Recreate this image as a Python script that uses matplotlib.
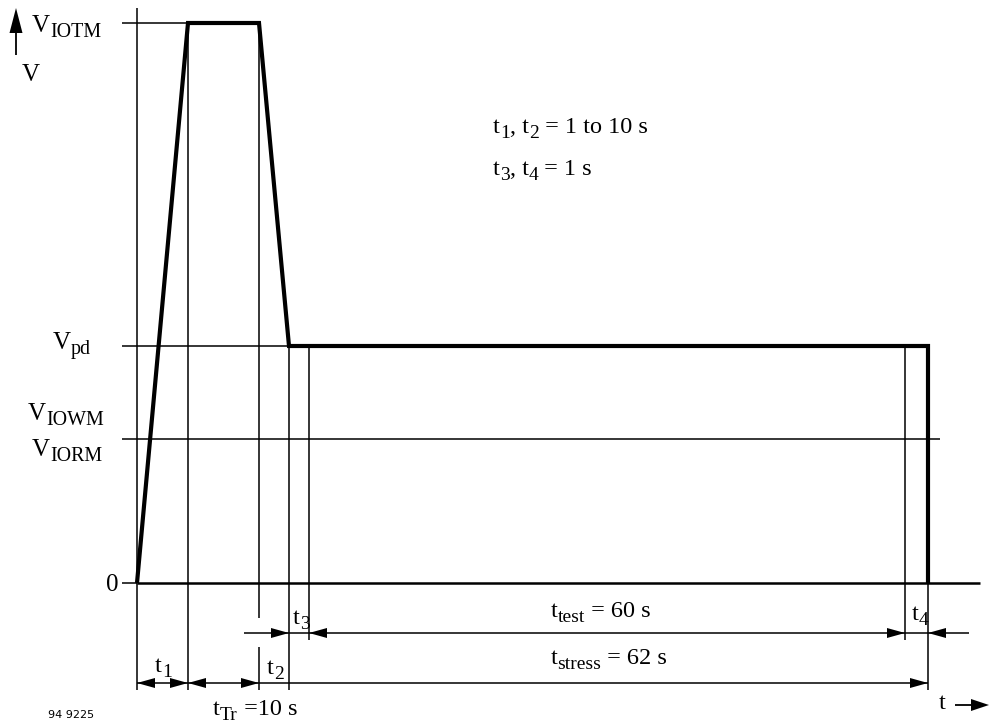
import numpy as np
import matplotlib.pyplot as plt

plt.rcParams['font.family'] = ['Liberation Serif', 'DejaVu Serif']

# diagram coordinates (horizontal = time position, vertical = level position, both in drawing units)
t_start, t1_end, t2_start, t2_end, t3_end, t4_start, t4_end = 137, 188, 259, 289, 309, 905, 928
v_zero, v_iorm, v_pd, v_iotm = 583, 439, 346, 23

# waveform
wave_t = [t_start, t1_end, t2_start, t2_end, t4_end, t4_end]
wave_v = [v_zero, v_iotm, v_iotm, v_pd, v_pd, v_zero]

# dimension rows
row_stress = 683
row_test = 633

# level labels: (base, subscript, x, baseline)
level_labels = [
    ('V', 'IOTM', 32, 32),
    ('V', 'pd', 53, 349),
    ('V', 'IOWM', 28, 420),
    ('V', 'IORM', 32, 456),
]

fig = plt.figure(figsize=(9.89, 7.24), dpi=100)
ax = fig.add_axes([0, 0, 1, 1])
ax.set_xlim(0, 989)
ax.set_ylim(724, 0)
ax.axis('off')
renderer = fig.canvas.get_renderer()

thin = 1.1
k = 'black'


def vline(x, y0, y1, lw=thin):
    ax.plot([x, x], [y0, y1], color=k, lw=lw, solid_capstyle='butt')


def hline(y, x0, x1, lw=thin):
    ax.plot([x0, x1], [y, y], color=k, lw=lw, solid_capstyle='butt')


def head(x, y, direction, length=18, half=5):
    # filled arrow head with tip at (x, y)
    if direction == 'right':
        pts = [(x, y), (x - length, y - half), (x - length, y + half)]
    elif direction == 'left':
        pts = [(x, y), (x + length, y - half), (x + length, y + half)]
    else:  # up
        pts = [(x, y), (x - half, y + length), (x + half, y + length)]
    xs, ys = zip(*pts)
    ax.fill(xs, ys, color=k, lw=0)


def text_width(s, size):
    t1 = ax.text(0, 0, '|' + s + '|', fontsize=size)
    t2 = ax.text(0, 0, '||', fontsize=size)
    w = t1.get_window_extent(renderer).width - t2.get_window_extent(renderer).width
    t1.remove()
    t2.remove()
    return w


def label(x, y, parts, fs, ha='left', ratio=0.8, drop=0.2):
    # parts: list of (text, is_subscript); y is the baseline
    items, cx = [], 0.0
    for s, is_sub in parts:
        size = fs * ratio if is_sub else fs
        items.append((cx, s, size, is_sub))
        cx += text_width(s, size)
    x0 = x - cx / 2 if ha == 'center' else x
    for off, s, size, is_sub in items:
        dy = fs * drop * 100 / 72 if is_sub else 0
        ax.text(x0 + off, y + dy, s, fontsize=size, ha='left', va='baseline')


# vertical reference lines
vline(t_start, 8, 690)
vline(t1_end, v_iotm, 690)
vline(t2_start, v_iotm, 618)
vline(t2_start, 647, 690)
vline(t2_end, v_pd, 690)
vline(t3_end, v_pd + 2, 640)
vline(t4_start, v_pd, 640)
vline(t4_end, v_pd, 690)

# horizontal level lines
hline(v_iotm, 122, t1_end)
hline(v_pd, 122, t2_end)
hline(v_iorm, 122, 940)
hline(v_zero, 122, t_start)
hline(v_zero, t_start, 980, lw=1.8)

# waveform
ax.plot(wave_t, wave_v, color=k, lw=3.0, solid_joinstyle='miter', solid_capstyle='butt')

# dimension lines
hline(row_stress, t_start, t4_end)
head(t_start, row_stress, 'left')
head(t1_end, row_stress, 'right')
head(t1_end, row_stress, 'left')
head(t2_start, row_stress, 'right')
head(t4_end, row_stress, 'right')

hline(row_test, 244, 969)
head(t2_end, row_test, 'right')
head(t3_end, row_test, 'left')
head(t4_start, row_test, 'right')
head(t4_end, row_test, 'left')

# axis arrows
vline(16, 30, 55, lw=1.3)
head(16, 8, 'up', length=25, half=6.5)
hline(705, 955, 975, lw=1.3)
head(989, 705, 'right', length=18, half=6)

fs = 18
for base, sub, x, y in level_labels:
    label(x, y, [(base, False), (sub, True)], fs)
ax.text(22, 81, 'V', fontsize=fs, ha='left', va='baseline')
ax.text(106, 591, '0', fontsize=fs, ha='left', va='baseline')

fs2 = 17.5
label(493, 133, [('t', False), ('1', True), (', t', False), ('2', True), (' = 1 to 10 s', False)], fs2)
label(493, 175, [('t', False), ('3', True), (', t', False), ('4', True), (' = 1 s', False)], fs2)
label(601, 617, [('t', False), ('test', True), (' = 60 s', False)], fs2, ha='center')
label(609, 664, [('t', False), ('stress', True), (' = 62 s', False)], fs2, ha='center')
label(155, 672, [('t', False), ('1', True)], fs2)
label(267, 674, [('t', False), ('2', True)], fs2)
label(293, 624, [('t', False), ('3', True)], fs2)
label(912, 620, [('t', False), ('4', True)], fs2)
label(213, 715, [('t', False), ('Tr', True), (' =10 s', False)], fs2)
ax.text(939, 709, 't', fontsize=fs2, ha='left', va='baseline')
ax.text(48, 718, '94 9225', fontsize=8, ha='left', va='baseline', family='DejaVu Sans')

fig.savefig('out.png', dpi=100)
